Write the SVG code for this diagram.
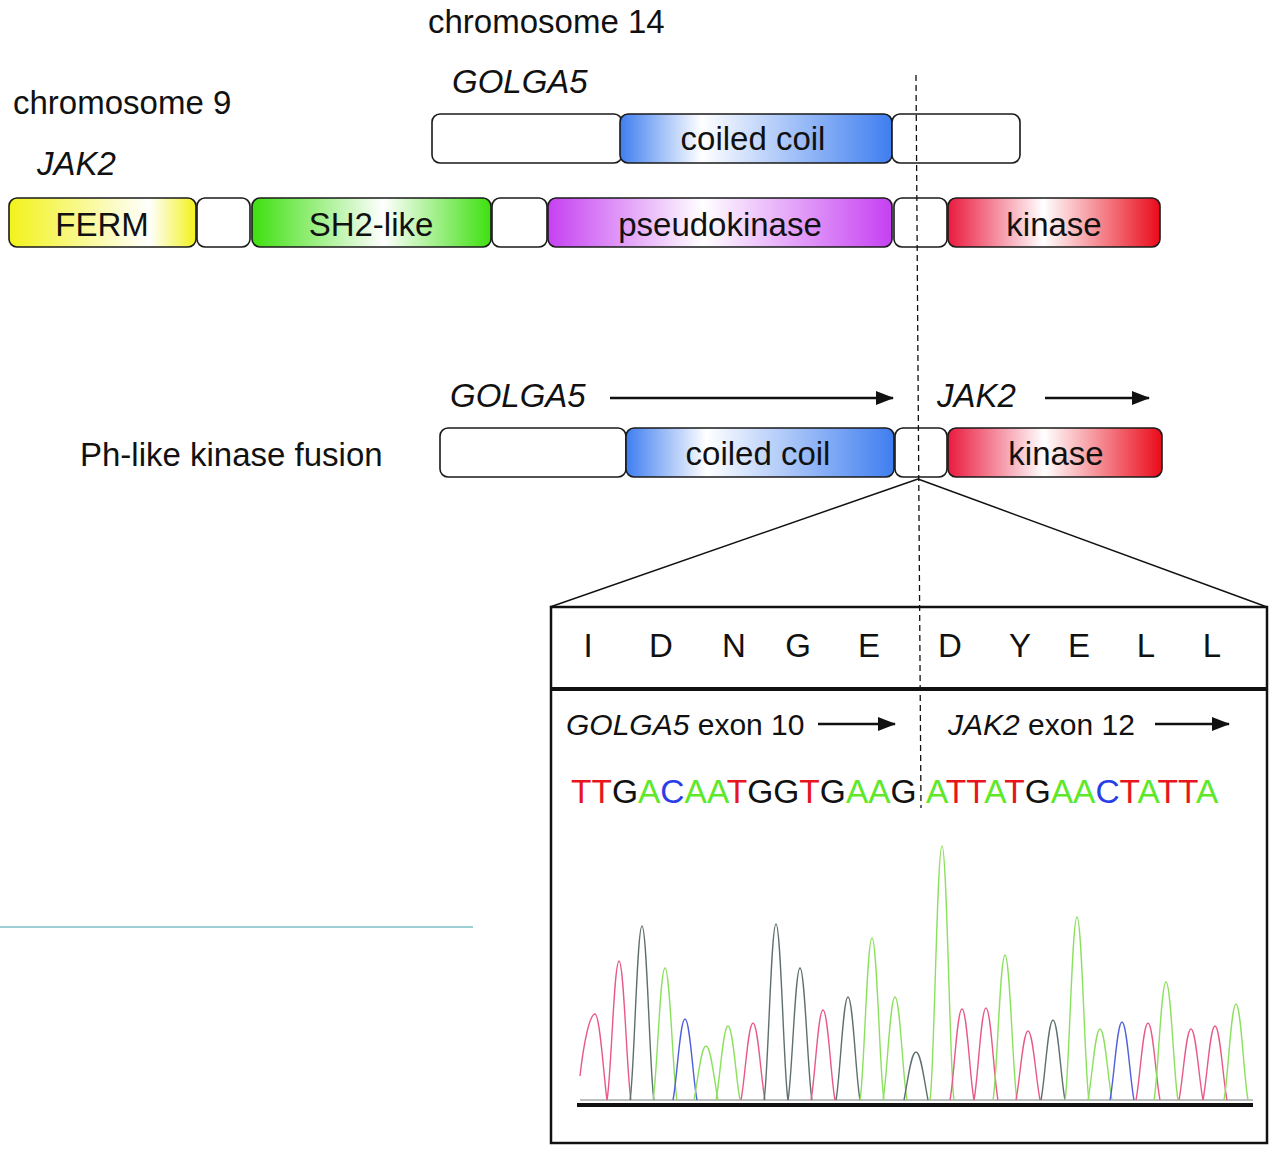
<svg xmlns="http://www.w3.org/2000/svg" width="1280" height="1152" viewBox="0 0 1280 1152">
<style>
text{font-family:"Liberation Sans",Arial,sans-serif;fill:#111}
.lbl{font-size:33px}
.it{font-style:italic}
.box{stroke:#1a1a1a;stroke-width:1.6}
.plain{fill:#fff}
.aa{font-size:33px;text-anchor:middle}
.mid{text-anchor:middle}
.ex{font-size:30px}
.seq{font-size:33.5px}
.T{fill:#e8141e}.G{fill:#111}.A{fill:#5ee82a}.C{fill:#2a3ee8}
.pk{fill:none;stroke-width:1.4}
.pink{stroke:#e85a86}.gray{stroke:#5f6f6f}.green{stroke:#8be05e}.blue{stroke:#5060d8}
</style>
<defs>
<linearGradient id="gY" x1="0" x2="1" y1="0" y2="0"><stop offset="0" stop-color="#f2f21a"/><stop offset="0.75" stop-color="#fff"/><stop offset="1" stop-color="#f2f21a"/></linearGradient>
<linearGradient id="gG" x1="0" x2="1" y1="0" y2="0"><stop offset="0" stop-color="#3ee00e"/><stop offset="0.55" stop-color="#fff"/><stop offset="1" stop-color="#3ee00e"/></linearGradient>
<linearGradient id="gP" x1="0" x2="1" y1="0" y2="0"><stop offset="0" stop-color="#c640f2"/><stop offset="0.45" stop-color="#fff"/><stop offset="1" stop-color="#c640f2"/></linearGradient>
<linearGradient id="gR" x1="0" x2="1" y1="0" y2="0"><stop offset="0" stop-color="#ea1a3e"/><stop offset="0.45" stop-color="#fff"/><stop offset="1" stop-color="#ea0a1a"/></linearGradient>
<linearGradient id="gB" x1="0" x2="1" y1="0" y2="0"><stop offset="0" stop-color="#3f7ef0"/><stop offset="0.3" stop-color="#fff"/><stop offset="1" stop-color="#3f7ef0"/></linearGradient>
<marker id="ah" markerWidth="8" markerHeight="8" refX="7" refY="4" orient="auto" markerUnits="userSpaceOnUse" viewBox="0 0 8 8"><path d="M0 0 L8 4 L0 8 Z" fill="#111"/></marker>
<marker id="ahb" markerWidth="18" markerHeight="14" refX="17" refY="7" orient="auto" markerUnits="userSpaceOnUse" viewBox="0 0 18 14"><path d="M0 0 L18 7 L0 14 Z" fill="#111"/></marker>
</defs>
<rect width="1280" height="1152" fill="#fff"/>

<text class="lbl" x="428" y="33">chromosome 14</text>
<text class="lbl" x="13" y="114">chromosome 9</text>

<g id="golga5-top">
<text class="lbl it" x="452" y="93">GOLGA5</text>
<rect class="box plain" x="432" y="114" width="190" height="49" rx="8"/>
<rect class="box" x="620" y="114" width="272" height="49" rx="8" fill="url(#gB)"/>
<text class="lbl mid" x="753" y="150">coiled coil</text>
<rect class="box plain" x="892" y="114" width="128" height="49" rx="8"/>
</g>

<g id="jak2-top">
<text class="lbl it" x="37" y="175">JAK2</text>
<rect class="box" x="9" y="198" width="187" height="49" rx="8" fill="url(#gY)"/>
<text class="lbl mid" x="102" y="236">FERM</text>
<rect class="box plain" x="197" y="198" width="53" height="49" rx="8"/>
<rect class="box" x="252" y="198" width="239" height="49" rx="8" fill="url(#gG)"/>
<text class="lbl mid" x="371" y="236">SH2-like</text>
<rect class="box plain" x="492" y="198" width="55" height="49" rx="8"/>
<rect class="box" x="548" y="198" width="344" height="49" rx="8" fill="url(#gP)"/>
<text class="lbl mid" x="720" y="236">pseudokinase</text>
<rect class="box plain" x="894" y="198" width="53" height="49" rx="8"/>
<rect class="box" x="948" y="198" width="212" height="49" rx="8" fill="url(#gR)"/>
<text class="lbl mid" x="1054" y="236">kinase</text>
</g>

<g id="fusion">
<text class="lbl" x="80" y="466">Ph-like kinase fusion</text>
<text class="lbl it" x="450" y="407">GOLGA5</text>
<text class="lbl it" x="937" y="407">JAK2</text>
<rect class="box plain" x="440" y="428" width="186" height="49" rx="8"/>
<rect class="box" x="626" y="428" width="268" height="49" rx="8" fill="url(#gB)"/>
<text class="lbl mid" x="758" y="465">coiled coil</text>
<rect class="box plain" x="895" y="428" width="52" height="49" rx="8"/>
<rect class="box" x="948" y="428" width="214" height="49" rx="8" fill="url(#gR)"/>
<text class="lbl mid" x="1056" y="465">kinase</text>
</g>

<g id="connectors" fill="none" stroke="#111">
<line x1="610" y1="398" x2="893" y2="398" stroke-width="2.5" marker-end="url(#ahb)"/>
<line x1="1045" y1="398" x2="1149" y2="398" stroke-width="2.5" marker-end="url(#ahb)"/>
<line x1="818" y1="724" x2="895" y2="724" stroke-width="2.5" marker-end="url(#ahb)"/>
<line x1="1155" y1="724" x2="1229" y2="724" stroke-width="2.5" marker-end="url(#ahb)"/>
<line x1="918" y1="479" x2="550" y2="607" stroke-width="1.5"/>
<line x1="918" y1="479" x2="1267" y2="607" stroke-width="1.5"/>
<line x1="916" y1="75" x2="921" y2="808" stroke-width="1.3" stroke-dasharray="6,4"/>
</g>

<g id="detail">
<rect x="551" y="607" width="716" height="536" fill="none" stroke="#111" stroke-width="2.5"/>
<line x1="551" y1="689" x2="1267" y2="689" stroke="#111" stroke-width="4"/>
<text class="aa" x="588" y="657">I</text>
<text class="aa" x="661" y="657">D</text>
<text class="aa" x="734" y="657">N</text>
<text class="aa" x="798" y="657">G</text>
<text class="aa" x="869" y="657">E</text>
<text class="aa" x="950" y="657">D</text>
<text class="aa" x="1020" y="657">Y</text>
<text class="aa" x="1079" y="657">E</text>
<text class="aa" x="1146" y="657">L</text>
<text class="aa" x="1212" y="657">L</text>
<text class="ex" x="566" y="735"><tspan class="it">GOLGA5</tspan> exon 10</text>
<text class="ex" x="948" y="735"><tspan class="it">JAK2</tspan> exon 12</text>
<text class="seq" x="571" y="803"><tspan class="T">TT</tspan><tspan class="G">G</tspan><tspan class="A">A</tspan><tspan class="C">C</tspan><tspan class="A">AA</tspan><tspan class="T">T</tspan><tspan class="G">GG</tspan><tspan class="T">T</tspan><tspan class="G">G</tspan><tspan class="A">AA</tspan><tspan class="G">G</tspan></text>
<text class="seq" x="926" y="803"><tspan class="A">A</tspan><tspan class="T">TT</tspan><tspan class="A">A</tspan><tspan class="T">T</tspan><tspan class="G">G</tspan><tspan class="A">AA</tspan><tspan class="C">C</tspan><tspan class="T">T</tspan><tspan class="A">A</tspan><tspan class="T">TT</tspan><tspan class="A">A</tspan></text>
</g>

<g id="chromatogram">
<line x1="580" y1="1100" x2="1253" y2="1100" stroke="#7a8080" stroke-width="1.2"/>
<path class="pk pink" d="M580 1076 C584 1040,590 1014,595 1014 C600 1014,604 1080,607 1100"/>
<path class="pk pink" d="M607 1100 C611 1080,614 961,619 961 C624 961,627 1080,631 1100"/>
<path class="pk gray" d="M630 1100 C634 1080,637 926,642 926 C647 926,650 1080,654 1100"/>
<path class="pk green" d="M653 1100 C657 1080,660 968,665 968 C670 968,673 1080,677 1100"/>
<path class="pk blue" d="M673 1100 C677 1080,680 1019,685 1019 C690 1019,693 1080,697 1100"/>
<path class="pk green" d="M694 1100 C698 1080,701 1046,706 1046 C711 1046,714 1080,718 1100"/>
<path class="pk green" d="M716 1100 C720 1080,723 1026,728 1026 C733 1026,736 1080,740 1100"/>
<path class="pk pink" d="M741 1100 C745 1080,748 1023,753 1023 C758 1023,761 1080,765 1100"/>
<path class="pk gray" d="M764 1100 C768 1080,771 924,776 924 C781 924,784 1080,788 1100"/>
<path class="pk gray" d="M788 1100 C792 1080,795 968,800 968 C805 968,808 1080,812 1100"/>
<path class="pk pink" d="M811 1100 C815 1080,818 1010,823 1010 C828 1010,831 1080,835 1100"/>
<path class="pk gray" d="M836 1100 C840 1080,843 997,848 997 C853 997,856 1080,860 1100"/>
<path class="pk green" d="M860 1100 C864 1080,867 938,872 938 C877 938,880 1080,884 1100"/>
<path class="pk green" d="M883 1100 C887 1080,890 997,895 997 C900 997,903 1080,907 1100"/>
<path class="pk gray" d="M904 1100 C908 1080,911 1052,916 1052 C921 1052,924 1080,928 1100"/>
<path class="pk green" d="M930 1100 C934 1080,937 846,942 846 C947 846,950 1080,954 1100"/>
<path class="pk pink" d="M950 1100 C954 1080,957 1009,962 1009 C967 1009,970 1080,974 1100"/>
<path class="pk pink" d="M974 1100 C978 1080,981 1008,986 1008 C991 1008,994 1080,998 1100"/>
<path class="pk green" d="M993 1100 C997 1080,1000 955,1005 955 C1010 955,1013 1080,1017 1100"/>
<path class="pk pink" d="M1016 1100 C1020 1080,1023 1031,1028 1031 C1033 1031,1036 1080,1040 1100"/>
<path class="pk gray" d="M1041 1100 C1045 1080,1048 1020,1053 1020 C1058 1020,1061 1080,1065 1100"/>
<path class="pk green" d="M1065 1100 C1069 1080,1072 917,1077 917 C1082 917,1085 1080,1089 1100"/>
<path class="pk green" d="M1088 1100 C1092 1080,1095 1029,1100 1029 C1105 1029,1108 1080,1112 1100"/>
<path class="pk blue" d="M1110 1100 C1114 1080,1117 1022,1122 1022 C1127 1022,1130 1080,1134 1100"/>
<path class="pk pink" d="M1136 1100 C1140 1080,1143 1023,1148 1023 C1153 1023,1156 1080,1160 1100"/>
<path class="pk green" d="M1154 1100 C1158 1080,1161 982,1166 982 C1171 982,1174 1080,1178 1100"/>
<path class="pk pink" d="M1179 1100 C1183 1080,1186 1029,1191 1029 C1196 1029,1199 1080,1203 1100"/>
<path class="pk pink" d="M1203 1100 C1207 1080,1210 1026,1215 1026 C1220 1026,1223 1080,1227 1100"/>
<path class="pk green" d="M1224 1100 C1228 1080,1231 1004,1236 1004 C1241 1004,1244 1080,1248 1100"/>
<line x1="577" y1="1105" x2="1253" y2="1105" stroke="#111" stroke-width="4"/>
</g>

<line x1="0" y1="927" x2="473" y2="927" stroke="#7bbfc4" stroke-width="1.5"/>
</svg>
